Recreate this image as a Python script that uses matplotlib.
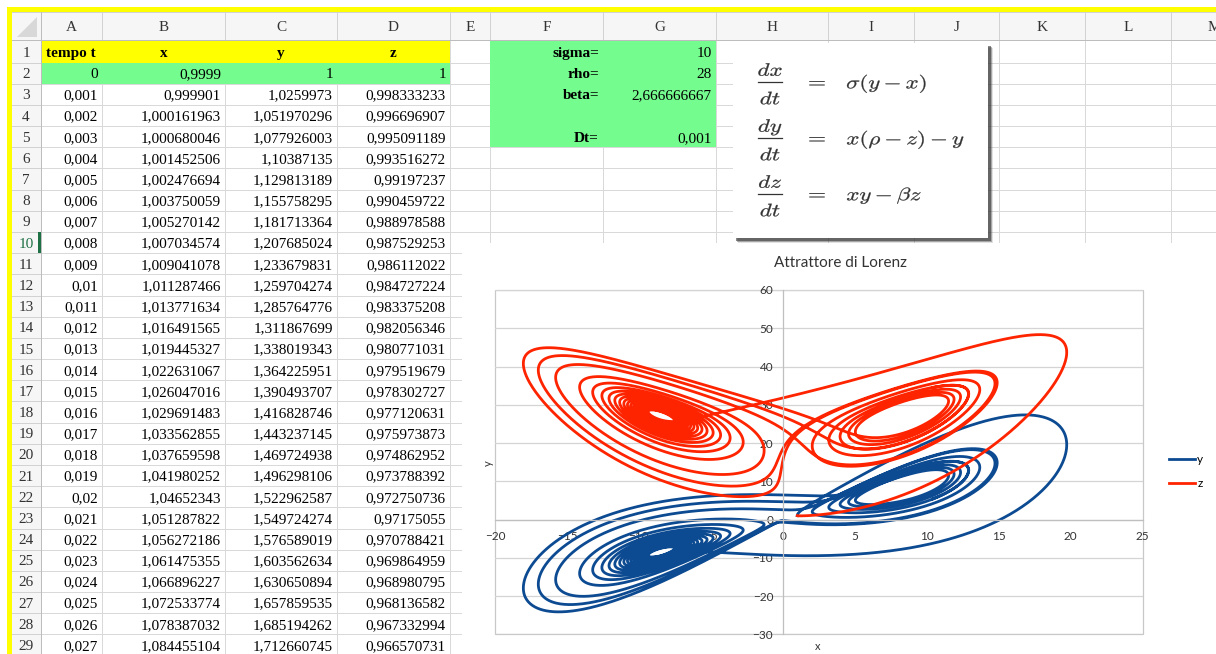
import numpy as np
import matplotlib.pyplot as plt
from matplotlib.patches import Rectangle, Polygon, PathPatch
from matplotlib.textpath import TextPath
from matplotlib.font_manager import FontProperties
from matplotlib.transforms import Affine2D

# parametri del modello (celle F1:G5)
sigma = 10
rho = 28
beta = 2.666666667
Dt = 0.001
n_steps = 20000

# prime righe del foglio, colonne A-D
tempo = [0, 0.001, 0.002, 0.003, 0.004, 0.005, 0.006, 0.007, 0.008, 0.009,
         0.01, 0.011, 0.012, 0.013, 0.014, 0.015, 0.016, 0.017, 0.018, 0.019,
         0.02, 0.021, 0.022, 0.023, 0.024, 0.025, 0.026, 0.027]
xs = [0.9999, 0.999901, 1.000161963, 1.000680046, 1.001452506, 1.002476694,
      1.003750059, 1.005270142, 1.007034574, 1.009041078, 1.011287466,
      1.013771634, 1.016491565, 1.019445327, 1.022631067, 1.026047016,
      1.029691483, 1.033562855, 1.037659598, 1.041980252, 1.04652343,
      1.051287822, 1.056272186, 1.061475355, 1.066896227, 1.072533774,
      1.078387032, 1.084455104]
ys = [1, 1.0259973, 1.051970296, 1.077926003, 1.10387135, 1.129813189,
      1.155758295, 1.181713364, 1.207685024, 1.233679831, 1.259704274,
      1.285764776, 1.311867699, 1.338019343, 1.364225951, 1.390493707,
      1.416828746, 1.443237145, 1.469724938, 1.496298106, 1.522962587,
      1.549724274, 1.576589019, 1.603562634, 1.630650894, 1.657859535,
      1.685194262, 1.712660745]
zs = [1, 0.998333233, 0.996696907, 0.995091189, 0.993516272, 0.99197237,
      0.990459722, 0.988978588, 0.987529253, 0.986112022, 0.984727224,
      0.983375208, 0.982056346, 0.980771031, 0.979519679, 0.978302727,
      0.977120631, 0.975973873, 0.974862952, 0.973788392, 0.972750736,
      0.97175055, 0.970788421, 0.969864959, 0.968980795, 0.968136582,
      0.967332994, 0.966570731]

col_names = list('ABCDEFGHIJKLM')
col_edges = [40.7, 101.7, 225, 337, 450, 490, 603, 716, 828, 914, 999,
             1085, 1171, 1257]
row_top = 41.4
row_h = 21.18
n_rows = 29

# integrazione di Eulero, come nel foglio
xt = np.empty(n_steps + 1)
yt = np.empty(n_steps + 1)
zt = np.empty(n_steps + 1)
xt[0], yt[0], zt[0] = xs[0], ys[0], zs[0]
for i in range(n_steps):
    x, y, z = xt[i], yt[i], zt[i]
    xt[i + 1] = x + Dt * sigma * (y - x)
    yt[i + 1] = y + Dt * (x * (rho - z) - y)
    zt[i + 1] = z + Dt * (x * y - beta * z)


def fmt(v):
    s = f'{v:.9f}'.rstrip('0').rstrip('.')
    return s.replace('.', ',')


def rtop(r):
    return row_top + (r - 1) * row_h


def rmid(r):
    return rtop(r) + row_h / 2


W, H = 1216, 654
fig = plt.figure(figsize=(W / 100, H / 100), dpi=100)
bg = fig.add_axes([0, 0, 1, 1])
bg.set_xlim(0, W)
bg.set_ylim(H, 0)
bg.axis('off')

serif = 'Liberation Serif'
px = 0.72
grid_c = '#d9d9d9'

# griglia celle
for r in range(1, n_rows + 1):
    yb = rtop(r) + row_h
    bg.plot([12, W], [yb, yb], color=grid_c, lw=px, zorder=1)
for xe in col_edges:
    bg.plot([xe, xe], [40, H], color=grid_c, lw=px, zorder=1)

# intestazioni di colonna
bg.add_patch(Rectangle((12, 12), W - 12, 28, facecolor='#f6f6f6',
                       edgecolor='none', zorder=2))
for xe in col_edges:
    bg.plot([xe, xe], [12, 40], color='#d2d2d2', lw=px, zorder=3)
bg.plot([12, W], [40, 40], color='#bdbdbd', lw=px, zorder=3)
bg.plot([12, W], [12, 12], color='#d2d2d2', lw=px, zorder=3)
bg.add_patch(Polygon([(17, 37), (37, 37), (37, 17)], closed=True,
                     facecolor='#d8d8d8', edgecolor='none', zorder=3))
for name, a, b in zip(col_names, col_edges[:-1], col_edges[1:]):
    bg.text((a + b) / 2, 31, name, family=serif, fontsize=11, color='#333333',
            ha='center', va='baseline', zorder=4)

# intestazioni di riga
bg.add_patch(Rectangle((12, 40), 28.7, H - 40, facecolor='#f6f6f6',
                       edgecolor='none', zorder=2))
for r in range(1, n_rows + 1):
    yb = rtop(r) + row_h
    bg.plot([12, 40.7], [yb, yb], color='#d2d2d2', lw=px, zorder=3)
    color = '#1e7145' if r == 10 else '#333333'
    bg.text(26, rmid(r) + 5, str(r), family=serif, fontsize=11, color=color,
            ha='center', va='baseline', zorder=4)
bg.plot([40.7, 40.7], [12, H], color='#bdbdbd', lw=px, zorder=3)
bg.add_patch(Rectangle((38.2, rtop(10)), 2.6, row_h, facecolor='#1e7145',
                       edgecolor='none', zorder=4))

# riempimenti
yellow = '#ffff00'
green = '#75fc8e'
bg.add_patch(Rectangle((40.7, rtop(1)), 450 - 40.7, row_h, facecolor=yellow,
                       edgecolor='none', zorder=2))
bg.add_patch(Rectangle((40.7, rtop(2)), 450 - 40.7, row_h, facecolor=green,
                       edgecolor='none', zorder=2))
bg.add_patch(Rectangle((490, rtop(1)), 716 - 490, 5 * row_h, facecolor=green,
                       edgecolor='none', zorder=2))

# intestazione tabella
bg.text(45.7, rmid(1) + 5, 'tempo t', family=serif, fontsize=11,
        weight='bold', ha='left', va='baseline', zorder=4)
for name, a, b in zip(['x', 'y', 'z'], col_edges[1:4], col_edges[2:5]):
    bg.text((a + b) / 2, rmid(1) + 5, name, family=serif, fontsize=11,
            weight='bold', ha='center', va='baseline', zorder=4)

# valori
for k in range(len(tempo)):
    r = k + 2
    vals = [tempo[k], xs[k], ys[k], zs[k]]
    for j, v in enumerate(vals):
        bg.text(col_edges[j + 1] - 4, rmid(r) + 5, fmt(v), family=serif,
                fontsize=11, ha='right', va='baseline', zorder=4)

# parametri
params = [(1, 'sigma=', sigma), (2, 'rho=', rho), (3, 'beta=', beta),
          (5, 'Dt=', Dt)]
for r, lab, v in params:
    bg.text(599, rmid(r) + 5, lab, family=serif, fontsize=11, weight='bold',
            ha='right', va='baseline', zorder=4)
    bg.text(712, rmid(r) + 5, fmt(v), family=serif, fontsize=11,
            ha='right', va='baseline', zorder=4)

# riquadro con le equazioni
for off, a in [(5, 0.15), (4, 0.35), (3, 0.6)]:
    bg.add_patch(Rectangle((733 + off, 43 + off), 255, 195, facecolor='#3a3a3a',
                           edgecolor='none', alpha=a, zorder=5))
bg.add_patch(Rectangle((733, 43), 255, 195, facecolor='white',
                       edgecolor='none', zorder=6))

eq_c = '#333333'
math_fp = FontProperties(math_fontfamily='cm')


def math_text(s, x, y, size=18, sx=1.28, ha='left'):
    # testo matematico come tracciato, allargato in orizzontale
    tp = TextPath((0, 0), s, size=size, prop=math_fp)
    ext = tp.get_extents()
    dx = -ext.x0 - ext.width / 2 if ha == 'center' else -ext.x0
    tr = Affine2D().translate(dx, 0).scale(sx, -1).translate(x, y)
    bg.add_patch(PathPatch(tr.transform_path(tp), facecolor=eq_c,
                           edgecolor=eq_c, lw=0.2, zorder=7))


eqs = [(r'$dx$', r'$\sigma(y-x)$'),
       (r'$dy$', r'$x(\rho-z)-y$'),
       (r'$dz$', r'$xy-\beta z$')]
for i, (num, rhs) in enumerate(eqs):
    yb = 82.3 + i * 56
    bg.plot([758, 782], [yb, yb], color=eq_c, lw=0.9, zorder=7)
    math_text(num, 770, yb - 6.5, ha='center')
    math_text(r'$dt$', 770, yb + 22, ha='center')
    math_text(r'$=$', 817, yb + 5.5, ha='center')
    math_text(rhs, 847, yb + 6)

# area del grafico
bg.add_patch(Rectangle((462, 243), W - 462, H - 243, facecolor='white',
                       edgecolor='none', zorder=8))

# bordo giallo
bg.add_patch(Rectangle((7, 7), W - 7, 4.5, facecolor=yellow,
                       edgecolor='none', zorder=9))
bg.add_patch(Rectangle((7, 7), 4.5, H - 7, facecolor=yellow,
                       edgecolor='none', zorder=9))

# grafico
sans = 'Lato'
tick_c = '#333333'
left, right, top, bottom = 495, 1142.7, 290, 634.3
ax = fig.add_axes([left / W, 1 - bottom / H, (right - left) / W,
                   (bottom - top) / H])
ax.plot(xt, yt, color='#0c4a92', lw=2.0, label='y')
ax.plot(xt, zt, color='#ff2400', lw=2.0, label='z')
ax.set_xlim(-20, 25)
ax.set_ylim(-30, 60)
ax.set_xticks(np.arange(-20, 26, 5))
ax.set_yticks(np.arange(-30, 61, 10))
ax.spines['left'].set_position(('data', 0))
ax.spines['bottom'].set_position(('data', 0))
ax.spines['top'].set_visible(False)
ax.spines['right'].set_visible(False)
for s in ('left', 'bottom'):
    ax.spines[s].set_color('#bfbfbf')
    ax.spines[s].set_linewidth(0.9)
ax.add_patch(Rectangle((0, 0), 1, 1, transform=ax.transAxes, fill=False,
                       edgecolor='#c8c8c8', lw=0.9, clip_on=False, zorder=0))
ax.yaxis.grid(True, color='#d4d4d4', lw=0.9)
ax.set_axisbelow(True)
ax.tick_params(axis='both', length=0, labelsize=8.5, labelcolor=tick_c)
ax.tick_params(axis='x', pad=8)
ax.tick_params(axis='y', pad=7)
for lab in ax.get_xticklabels() + ax.get_yticklabels():
    lab.set_family(sans)
ax.legend(loc='upper left', bbox_to_anchor=(1169 / W, 1 - 454 / H),
          bbox_transform=fig.transFigure, frameon=False, handlelength=2.2,
          handletextpad=0.2, borderpad=0, borderaxespad=0, labelspacing=1.1,
          prop={'family': sans, 'size': 8.5})

fig.text(840 / W, 1 - 263 / H, 'Attrattore di Lorenz', family=sans,
         fontsize=11, color='#333333', ha='center', va='center')
fig.text(488 / W, 1 - 463 / H, 'y', family=sans, fontsize=8, color=tick_c,
         rotation=90, ha='center', va='center')
fig.text(818 / W, 1 - 646 / H, 'x', family=sans, fontsize=8, color=tick_c,
         ha='center', va='center')

fig.savefig('out.png', dpi=100)
